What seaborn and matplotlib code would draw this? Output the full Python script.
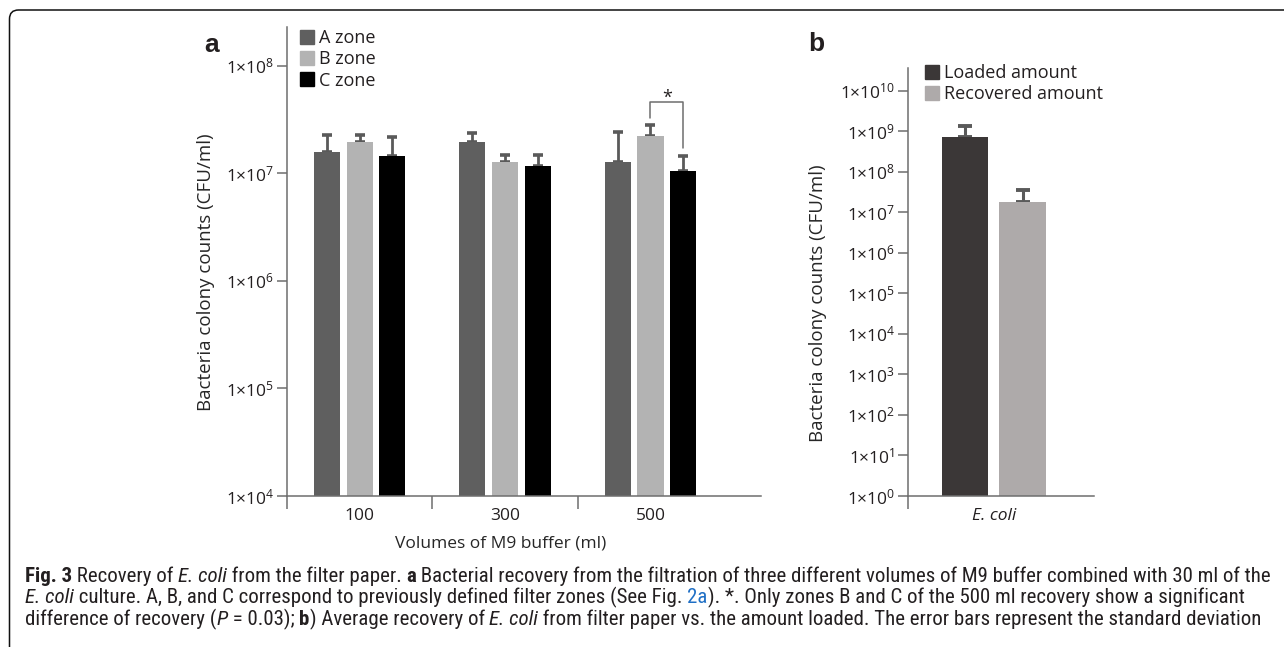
import numpy as np
import pandas as pd
import matplotlib
matplotlib.use('Agg')
import matplotlib.pyplot as plt
import matplotlib.ticker as mticker
from matplotlib.transforms import IdentityTransform, blended_transform_factory
from matplotlib.patches import FancyBboxPatch, Patch
from matplotlib import font_manager
import seaborn as sns

# ---- data ----
volumes = ['100', '300', '500']
zones = ['A zone', 'B zone', 'C zone']
zone_a_mean = [1.57e7, 1.94e7, 1.27e7]
zone_a_sd = [0.70e7, 0.44e7, 1.17e7]
zone_b_mean = [1.94e7, 1.27e7, 2.21e7]
zone_b_sd = [0.33e7, 0.21e7, 0.61e7]
zone_c_mean = [1.44e7, 1.18e7, 1.06e7]
zone_c_sd = [0.72e7, 0.30e7, 0.38e7]
bracket_top = 4.6e7

organism = ['E. coli']
amounts = ['Loaded amount', 'Recovered amount']
amount_mean = [7.1e8, 1.77e7]
amount_sd = [6.7e8, 1.73e7]

zone_colors = ['#5f5f5f', '#b3b3b3', '#000000']
amount_colors = ['#3b3737', '#aeaaaa']
err_color = '#5a5a5a'
axis_color = '#6e6e6e'
text_color = '#231f20'

W, H = 1284, 647

sns.set_theme(style='white')
plt.rcParams['font.family'] = ['Open Sans', 'DejaVu Sans']
plt.rcParams['mathtext.fontset'] = 'custom'
plt.rcParams['mathtext.rm'] = 'Open Sans'
plt.rcParams['mathtext.it'] = 'Open Sans:italic'
plt.rcParams['text.color'] = text_color
plt.rcParams['xtick.color'] = text_color
plt.rcParams['ytick.color'] = text_color


def box(x0, y0, x1, y1):
    # pixel box (top-left origin) -> figure fraction rect
    return [x0 / W, 1 - y1 / H, (x1 - x0) / W, (y1 - y0) / H]


def sci_fmt(v, pos):
    return r'$1{\times}10^{%d}$' % int(round(np.log10(v)))


def style_axes(ax):
    for s in ['top', 'right']:
        ax.spines[s].set_visible(False)
    for s in ['left', 'bottom']:
        ax.spines[s].set_color(axis_color)
        ax.spines[s].set_linewidth(1.1)
    ax.yaxis.set_major_locator(mticker.LogLocator(base=10, numticks=20))
    ax.yaxis.set_minor_locator(mticker.NullLocator())
    ax.yaxis.set_major_formatter(mticker.FuncFormatter(sci_fmt))
    ax.tick_params(axis='y', which='major', length=7, width=1.1, color=axis_color,
                   labelsize=12.5, pad=2, left=True)
    ax.tick_params(axis='x', which='major', length=0, pad=9, labelsize=12.5)
    ax.tick_params(axis='x', which='minor', length=9, width=1.1, color=axis_color, bottom=True)
    ax.set_facecolor('white')
    ax.grid(False)


def add_errors(ax, sds, caps, lw):
    for cont, sd in zip(ax.containers, sds):
        for p, s in zip(cont.patches, sd):
            xc = p.get_x() + p.get_width() / 2
            ax.errorbar(xc, p.get_height(), yerr=[[0], [s]], fmt='none', ecolor=err_color,
                        elinewidth=lw, capsize=caps, capthick=lw + 0.6, zorder=1)


fig = plt.figure(figsize=(W / 100, H / 100), dpi=100)

# ---------------- panel a ----------------
df_a = pd.DataFrame({
    'volume': volumes * 3,
    'zone': np.repeat(zones, 3),
    'count': zone_a_mean + zone_b_mean + zone_c_mean,
})
ax = fig.add_axes(box(287, 27, 761, 496))
ax.set_yscale('log')
sns.barplot(data=df_a, x='volume', y='count', hue='zone', palette=zone_colors,
            width=0.674, gap=0.2, saturation=1, errorbar=None, edgecolor='none',
            legend=False, ax=ax, zorder=2)
add_errors(ax, [zone_a_sd, zone_b_sd, zone_c_sd], 3.5, 2.0)
ax.set_ylim(1e4, 10 ** 8.36)
ax.set_xlim(-0.5, 2.76)
style_axes(ax)
ax.set_xticks([-0.5, 0.5, 1.5], minor=True)
ax.set_ylabel('Bacteria colony counts (CFU/ml)', fontsize=13.5)
ax.yaxis.set_label_coords(-0.152, 0.478)
ax.set_xlabel('Volumes of M9 buffer (ml)', fontsize=12.5, labelpad=6)
ax.xaxis.set_label_coords(0.97, -0.085, transform=blended_transform_factory(ax.transData, ax.transAxes))

# significance bracket between B and C at 500 ml
pb = ax.containers[1].patches[2]
pc = ax.containers[2].patches[2]
xb = pb.get_x() + pb.get_width() / 2
xc = pc.get_x() + pc.get_width() / 2
yb = (zone_b_mean[2] + zone_b_sd[2]) * 1.17
yc = (zone_c_mean[2] + zone_c_sd[2]) * 1.2
ax.plot([xb, xb, xc, xc], [yb, bracket_top, bracket_top, yc], color=axis_color, lw=1.1)
ax.text((xb + xc) / 2, bracket_top * 0.91, '*', ha='center', va='bottom', fontsize=13)

ax.legend(handles=[Patch(color=c, label=z) for c, z in zip(zone_colors, zones)],
          loc='upper left', bbox_to_anchor=(300 / W, 1 - 29 / H), bbox_transform=fig.transFigure,
          frameon=False, fontsize=13, handlelength=0.8, handleheight=0.8,
          handletextpad=0.25, labelspacing=0.18, borderpad=0, borderaxespad=0)

# ---------------- panel b ----------------
df_b = pd.DataFrame({'organism': organism * 2, 'amount': amounts, 'count': amount_mean})
ax2 = fig.add_axes(box(907.7, 67.7, 1094, 496))
ax2.set_yscale('log')
sns.barplot(data=df_b, x='organism', y='count', hue='amount', palette=amount_colors,
            width=0.618, gap=0.185, saturation=1, errorbar=None, edgecolor='none',
            legend=False, ax=ax2, zorder=2)
add_errors(ax2, [[amount_sd[0]], [amount_sd[1]]], 5, 2.2)
ax2.set_ylim(1, 10 ** 10.568)
ax2.set_xlim(-0.463, 0.539)
style_axes(ax2)
ax2.set_xticks([-0.463], minor=True)
for t in ax2.get_xticklabels():
    t.set_fontstyle('italic')
ax2.set_xlabel('')
ax2.set_ylabel('Bacteria colony counts (CFU/ml)', fontsize=13.5)
ax2.yaxis.set_label_coords(-0.435, 0.45)
ax2.legend(handles=[Patch(color=c, label=a) for c, a in zip(amount_colors, amounts)],
           loc='upper left', bbox_to_anchor=(925 / W, 1 - 64 / H), bbox_transform=fig.transFigure,
           frameon=False, fontsize=13, handlelength=0.8, handleheight=0.8,
           handletextpad=0.25, labelspacing=0.18, borderpad=0, borderaxespad=0)

# panel letters
fig.text(212 / W, 1 - 45 / H, 'a', fontsize=19, fontweight='bold', ha='center', va='center',
         family=['Liberation Sans', 'DejaVu Sans'])
fig.text(816 / W, 1 - 44 / H, 'b', fontsize=19, fontweight='bold', ha='center', va='center',
         family=['Liberation Sans', 'DejaVu Sans'])

# ---------------- frame and caption ----------------
frame = FancyBboxPatch((9.5, -30), 1400, H - 10 + 30, boxstyle='round,pad=0,rounding_size=9',
                       transform=IdentityTransform(), facecolor='none', edgecolor='#111111', lw=1.1)
fig.patches.append(frame)

names = {f.name for f in font_manager.fontManager.ttflist}
cap_font = 'Open Sans'
for cand in ['Liberation Sans Narrow', 'Roboto Condensed', 'Lato']:
    if cand in names:
        cap_font = cand
        break

caption = [
    [('Fig. 3', 'b'), (' Recovery of ', 'n'), ('E. coli', 'i'), (' from the filter paper. ', 'n'),
     ('a', 'b'), (' Bacterial recovery from the filtration of three different volumes of M9 buffer '
                  'combined with 30 ml of the', 'n')],
    [('E. coli', 'i'), (' culture. A, B, and C correspond to previously defined filter zones (See Fig. ', 'n'),
     ('2a', 'l'), ('). *. Only zones B and C of the 500 ml recovery show a significant', 'n')],
    [('difference of recovery (', 'n'), ('P', 'i'), (' = 0.03); ', 'n'), ('b', 'b'),
     (') Average recovery of ', 'n'), ('E. coli', 'i'),
     (' from filter paper vs. the amount loaded. The error bars represent the standard deviation', 'n')],
]
baselines = [581.7, 603, 625]


def draw_runs(runs, x, y, size):
    r = fig.canvas.get_renderer()
    made = []
    for txt, st in runs:
        kw = dict(fontsize=size, family=[cap_font, 'DejaVu Sans'], color=text_color)
        if st == 'b':
            kw['fontweight'] = 'bold'
        if st == 'i':
            kw['fontstyle'] = 'italic'
        if st == 'l':
            kw['color'] = '#1f6fc5'
        t = fig.text(x, y, txt, transform=IdentityTransform(), va='baseline', ha='left', **kw)
        made.append(t)
        x = t.get_window_extent(r).x1
    return x, made


# fit the first line to the width it takes in the reference
end, tmp = draw_runs(caption[0], 25, H - baselines[0], 11.7)
for t in tmp:
    t.remove()
cap_size = 11.7 * (1268 - 25) / (end - 25)

for runs, yb_ in zip(caption, baselines):
    draw_runs(runs, 25, H - yb_, cap_size)

fig.savefig('out.png', dpi=100, facecolor='white')
